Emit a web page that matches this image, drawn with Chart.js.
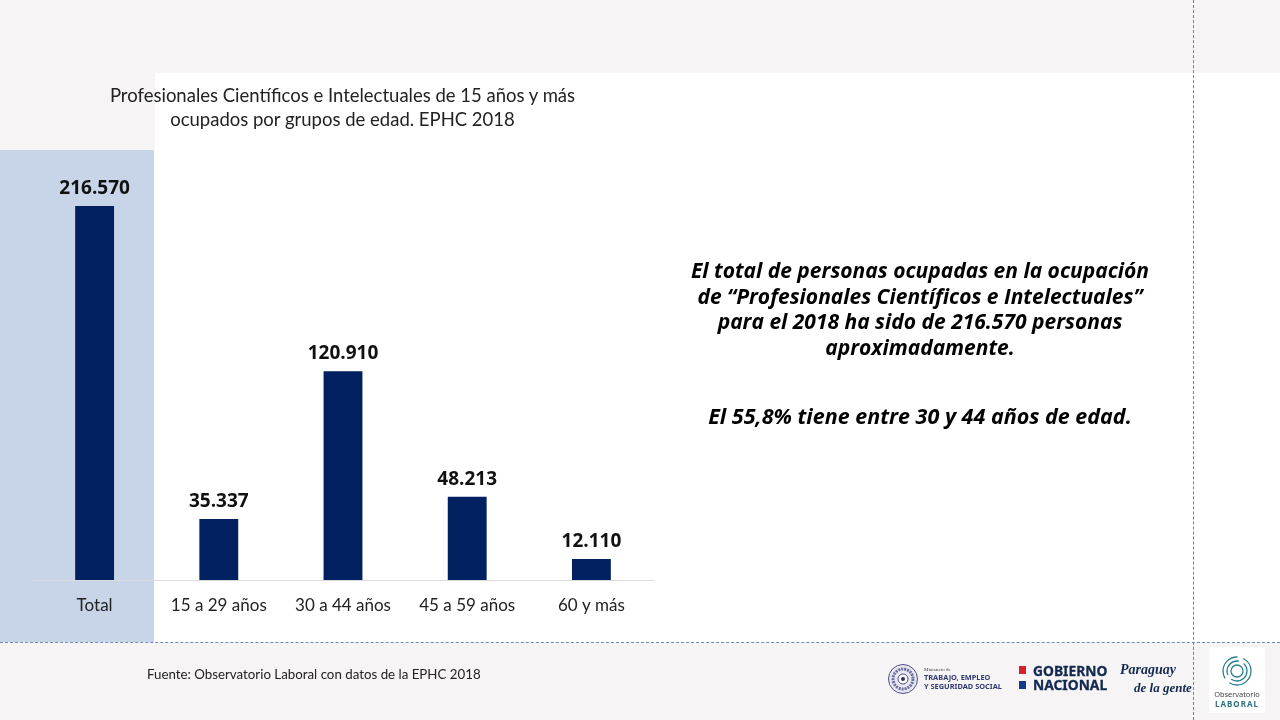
<!DOCTYPE html>
<html><head><meta charset="utf-8">
<script src="https://cdn.jsdelivr.net/npm/chart.js@4"></script>
<style>
html,body{margin:0;padding:0;background:#fff;width:1280px;height:720px;overflow:hidden}
.a{position:absolute}
#stage{position:relative;width:1280px;height:720px;overflow:hidden;font-family:Lato,sans-serif}
canvas{position:absolute;left:0;top:0}
.t{position:absolute;white-space:nowrap}
</style></head><body>
<div id="stage">
<div class="a" style="left:0;top:0;width:1280px;height:73px;background:#f6f4f5"></div>
<div class="a" style="left:0;top:73px;width:155px;height:77px;background:#f6f4f5"></div>
<div class="a" style="left:0;top:150px;width:154px;height:492px;background:#c8d5e9"></div>
<div class="a" style="left:0;top:642px;width:1280px;height:78px;background:#f6f4f5"></div>
<div class="a" style="left:0;top:642px;width:1280px;border-top:1px dashed #6d8db8"></div>
<div class="a" style="left:1193px;top:0;height:720px;border-left:1px dashed #5f82b5"></div>
<canvas id="c" width="1280" height="720"></canvas>
<div class="t" style="left:0;width:685px;top:83px;text-align:center;font-size:18.5px;line-height:24px;color:#222">Profesionales Científicos e Intelectuales de 15 años y más<br>ocupados por grupos de edad. EPHC 2018</div>
<div class="t" style="left:660px;width:520px;top:258px;text-align:center;font:italic 700 21px/25.6px 'Open Sans',sans-serif;color:#000">El total de personas ocupadas en la ocupación<br>de “Profesionales Científicos e Intelectuales”<br>para el 2018 ha sido de 216.570 personas<br>aproximadamente.</div>
<div class="t" style="left:660px;width:520px;top:403px;text-align:center;font:italic 700 21.5px/26px 'Open Sans',sans-serif;color:#000">El 55,8% tiene entre 30 y 44 años de edad.</div>
<div class="t" style="left:147px;top:666px;font-size:13.3px;color:#222">Fuente: Observatorio Laboral con datos de la EPHC 2018</div>

<svg class="a" style="left:887px;top:662px" width="32" height="34" viewBox="0 0 32 34"><circle cx="16" cy="17" r="14.5" fill="#e9e7f0" stroke="#4b4f86" stroke-width="1"/><circle cx="16" cy="17" r="10" fill="none" stroke="#6b6f9f" stroke-width="3" stroke-dasharray="2 1"/><circle cx="16" cy="17" r="5" fill="#fff" stroke="#4b4f86"/><circle cx="16" cy="17" r="2" fill="#2b2f66"/></svg>
<div class="t" style="left:924px;top:667px;font:5px 'Liberation Serif',serif;color:#444">Ministerio de</div>
<div class="t" style="left:924px;top:673px;font:700 7.4px/9px 'Noto Sans',sans-serif;color:#2f3a70">TRABAJO, EMPLEO<br>Y SEGURIDAD SOCIAL</div>
<div class="a" style="left:1019px;top:666px;width:7px;height:8px;background:#d5202e"></div>
<div class="a" style="left:1019px;top:681px;width:7px;height:8px;background:#123a86"></div>
<div class="t" style="left:1033px;top:664px;font:700 13.8px/13.5px 'Noto Sans',sans-serif;color:#13294f;-webkit-text-stroke:0.3px #13294f">GOBIERNO<br>NACIONAL</div>
<div class="t" style="left:1120px;top:662px;font:italic 700 14px 'Liberation Serif',serif;color:#13294f">Paraguay</div>
<div class="t" style="left:1134px;top:680px;font:italic 700 13px 'Liberation Serif',serif;color:#13294f">de la gente</div>
<div class="a" style="left:1209px;top:647px;width:56px;height:66px;background:#fff"></div>
<svg class="a" style="left:1220px;top:654px" width="34" height="34" viewBox="0 0 34 34"><g fill="none" stroke="#2d7f93"><circle cx="17" cy="17" r="14" stroke-width="1.3" stroke-dasharray="30 6"/><circle cx="17" cy="17" r="10" stroke-width="1.3" stroke-dasharray="22 5"/><circle cx="17" cy="17" r="6" stroke-width="1.3"/></g></svg>
<div class="t" style="left:1209px;width:56px;top:689px;text-align:center;font:7.4px 'Noto Sans',sans-serif;color:#444">Observatorio</div>
<div class="t" style="left:1209px;width:56px;top:698px;text-align:center;font:700 8px 'Noto Sans',sans-serif;letter-spacing:1px;color:#2d6f83">LABORAL</div>
</div>
<script>
const categories = ["Total","15 a 29 años","30 a 44 años","45 a 59 años","60 y más"];
const values = [216570,35337,120910,48213,12110];
const valueLabels = ["216.570","35.337","120.910","48.213","12.110"];
const barColor = "#002060";

const labelPlugin = {
  id:'barLabels',
  afterDatasetsDraw(chart){
    const ctx = chart.ctx;
    const meta = chart.getDatasetMeta(0);
    ctx.save();
    ctx.font = "700 19px 'Open Sans',sans-serif";
    ctx.fillStyle = "#111";
    ctx.textAlign = "center";
    ctx.textBaseline = "alphabetic";
    meta.data.forEach((el,i)=>ctx.fillText(valueLabels[i], el.x, el.y-12));
    ctx.restore();
  }
};
new Chart(document.getElementById('c'),{
  type:'bar',
  data:{labels:categories,datasets:[{data:values,backgroundColor:barColor,barPercentage:0.313,categoryPercentage:1}]},
  plugins:[labelPlugin],
  options:{
    responsive:false,animation:false,devicePixelRatio:1,
    layout:{padding:{left:32.5,right:626.5,top:150,bottom:0}},
    plugins:{legend:{display:false},tooltip:{enabled:false},title:{display:false}},
    scales:{
      x:{afterFit(s){s.height=140},
         grid:{display:false,drawTicks:false},
         border:{display:true,color:'#dcdcdc',width:1},
         ticks:{color:'#222',font:{family:'Lato',size:17},padding:15,maxRotation:0}},
      y:{display:false,min:0,max:249000}
    }
  }
});
</script>
</body></html>
